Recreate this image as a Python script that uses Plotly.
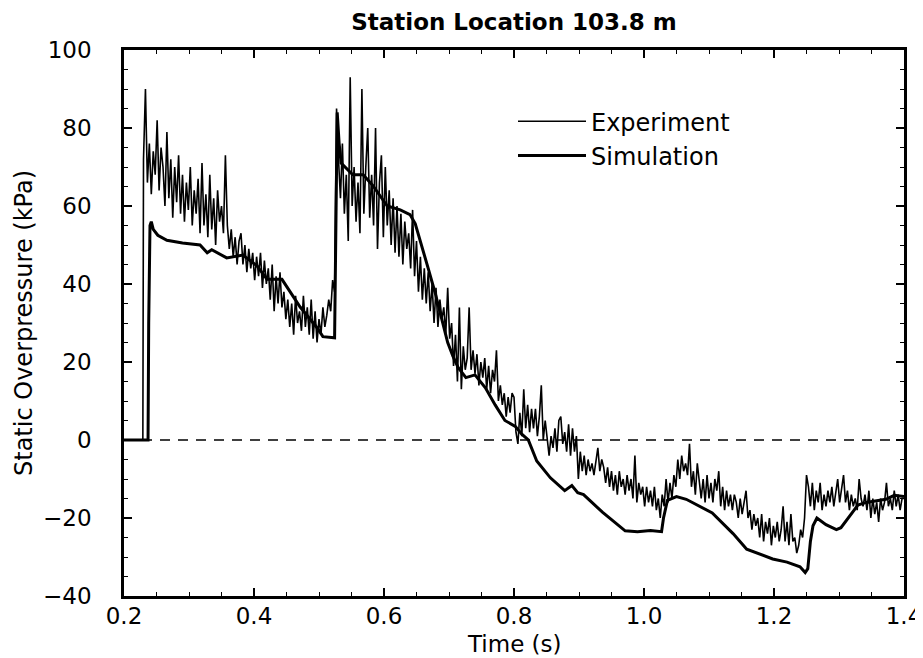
import plotly.graph_objects as go

# ---------------- data ----------------
title_text = "Station Location 103.8 m"
x_label = "Time (s)"
y_label = "Static Overpressure (kPa)"
series_names = ["Experiment", "Simulation"]

x_ticks = [0.2, 0.4, 0.6, 0.8, 1.0, 1.2, 1.4]
y_ticks = [-40, -20, 0, 20, 40, 60, 80, 100]

# experiment: quiet part before the shock, then samples every exp_dt seconds
exp_pre_t = [0.200, 0.229]
exp_pre_v = [0, 0]
exp_t0 = 0.230
exp_dt = 0.003
exp_v = [
    72, 90, 66, 76, 63, 74, 68, 82, 64, 75,
    70, 60, 79, 62, 72, 57, 70, 61, 73, 58,
    68, 56, 66, 59, 70, 55, 64, 58, 67, 53,
    71, 55, 63, 52, 68, 54, 62, 50, 64, 56,
    60, 53, 73, 55, 49, 54, 47, 52, 45, 51,
    53, 45, 50, 43, 49, 44, 48, 41, 47, 42,
    48, 39, 46, 40, 44, 36, 45, 33, 42, 35,
    43, 34, 38, 31, 36, 29, 35, 27, 37, 30,
    33, 28, 37, 29, 34, 27, 36, 26, 33, 25,
    31, 27, 34, 29, 32, 36, 33, 41, 38, 85,
    72, 62, 76, 58, 68, 51, 93, 60, 70, 56,
    66, 53, 90, 58, 70, 80, 57, 68, 55, 80,
    49, 66, 73, 52, 70, 55, 64, 50, 62, 48,
    60, 47, 58, 45, 56, 49, 53, 44, 59, 42,
    51, 38, 47, 36, 44, 35, 43, 33, 40, 30,
    39, 29, 36, 31, 34, 27, 39, 26, 30, 19,
    27, 15, 34, 13, 24, 18, 21, 34, 18, 23,
    17, 22, 14, 20, 16, 21, 13, 19, 12, 18,
    15, 23, 10, 14, 9, 12, 6, 11, 7, 12,
    11, 2, -1, 7, 1, 13, 3, 9, 2, 8,
    3, 8, 1, 6, 14, 0, 5, 1, -4, 1,
    -2, 3, -3, 5, 6, -1, 2, -3, 4, -4,
    3, -3, 1, -10, -3, -8, -4, -9, -5, -8,
    -6, -9, -5, -2, -8, -5, -7, -11, -7, -12,
    -8, -13, -9, -14, -8, -12, -10, -14, -9, -13,
    -10, -15, -4, -16, -11, -14, -12, -17, -12, -16,
    -13, -17, -12, -18, -15, -20, -14, -17, -10, -16,
    -11, -15, -9, -12, -5, -10, -4, -8, -6, -9,
    -1, -12, -8, -14, -6, -11, -15, -10, -16, -9,
    -15, -11, -16, -10, -13, -8, -17, -12, -18, -13,
    -17, -14, -18, -14, -16, -20, -15, -19, -16, -13,
    -20, -18, -23, -19, -22, -20, -25, -19, -26, -21,
    -24, -20, -27, -22, -25, -21, -26, -23, -17, -26,
    -21, -27, -19, -26, -25, -29, -27, -23, -25, -20,
    -9, -12, -17, -11, -18, -13, -16, -11, -18, -14,
    -17, -13, -16, -12, -17, -14, -10, -16, -13, -9,
    -16, -13, -18, -14, -17, -15, -18, -10, -15, -17,
    -14, -18, -13, -20, -15, -19, -16, -21, -15, -18,
    -16, -11, -17, -15, -18, -13, -17, -14, -18, -15,
    -15,
]

sim_t = [0.200, 0.237, 0.238, 0.240, 0.242, 0.245, 0.252, 0.266, 0.290, 0.317,
         0.328, 0.335, 0.358, 0.374, 0.383, 0.405, 0.420, 0.443, 0.471, 0.497,
         0.506, 0.524, 0.526, 0.528, 0.531, 0.534, 0.552, 0.568, 0.583, 0.605,
         0.625, 0.640, 0.648, 0.657, 0.668, 0.679, 0.689, 0.698, 0.706, 0.714,
         0.726, 0.740, 0.756, 0.771, 0.786, 0.802, 0.812, 0.822, 0.835, 0.856,
         0.878, 0.889, 0.898, 0.907, 0.936, 0.971, 0.990, 1.010, 1.027, 1.030,
         1.036, 1.050, 1.065, 1.085, 1.105, 1.137, 1.158, 1.198, 1.220, 1.240,
         1.248, 1.252, 1.256, 1.260, 1.266, 1.280, 1.296, 1.303, 1.314, 1.329,
         1.342, 1.372, 1.385, 1.400]
sim_v = [0, 0, 30, 55, 56, 54, 52.5, 51.2, 50.5, 50,
         48, 48.8, 46.7, 47.2, 47.4, 44.6, 41.2, 41.2, 34.1, 28.8,
         26.5, 26.2, 60, 84, 76, 71, 68, 68, 65.2, 60,
         59, 57.8, 55.5, 50, 44, 37.5, 30.5, 25, 21.5, 18.6,
         16, 16.7, 13.4, 9, 5, 3.5, 1.5, 0, -5.4, -9.7,
         -13, -11.7, -13.5, -14, -18.5, -23.3, -23.5, -23.2, -23.5, -20,
         -15.5, -14.5, -15.2, -17, -18.7, -24, -28, -30.5, -31.3, -32.5,
         -34, -33, -26, -22, -20, -21.7, -23, -22.5, -20, -16.7,
         -16, -15.2, -14.2, -14.5]

# ---------------- figure ----------------
exp_t = exp_pre_t + [round(exp_t0 + exp_dt * i, 4) for i in range(len(exp_v))]
exp_y = exp_pre_v + exp_v

FONT = "DejaVu Sans"

fig = go.Figure()
fig.add_trace(go.Scatter(x=exp_t, y=exp_y, mode="lines", name=series_names[0],
                         line=dict(color="black", width=1.6)))
fig.add_trace(go.Scatter(x=sim_t, y=sim_v, mode="lines", name=series_names[1],
                         line=dict(color="black", width=3)))

# zero reference line
fig.add_shape(type="line", xref="paper", yref="y", x0=0, x1=1, y0=0, y1=0,
              line=dict(color="black", width=1.5, dash="10px,8px"), layer="below")

axis_common = dict(
    showline=True, linewidth=2.5, linecolor="black", mirror="allticks",
    ticks="inside", ticklen=8, tickwidth=1.5, tickcolor="black",
    showgrid=False, zeroline=False, automargin=False,
    tickfont=dict(family=FONT, size=23, color="black"),
)

fig.update_xaxes(
    range=[0.2, 1.4], tickvals=x_ticks, ticktext=[f"{v:.1f}" for v in x_ticks],
    minor=dict(dtick=0.05, ticks="inside", ticklen=4, tickwidth=1, tickcolor="black"),
    ticklabelstandoff=-2,
    **axis_common,
)
fig.update_yaxes(
    range=[-40, 100], tickvals=y_ticks,
    minor=dict(dtick=5, ticks="inside", ticklen=4, tickwidth=1, tickcolor="black"),
    title=dict(text=y_label, font=dict(family=FONT, size=24, color="black"), standoff=4),
    ticklabelstandoff=25,
    **axis_common,
)

# x-axis title as a text label under the tick labels (the bottom margin is tight)
fig.add_annotation(text=x_label, xref="paper", yref="paper", x=0.5, y=-(644 - 596) / 546,
                   xanchor="center", yanchor="middle", showarrow=False,
                   font=dict(family=FONT, size=23, color="black"))

# the page body adds an 8 px offset, so the figure is 8 px smaller than the window
fig.update_layout(
    width=915, height=650,
    margin=dict(l=116, r=19, t=42, b=62),
    paper_bgcolor="white", plot_bgcolor="white",
    title=dict(text=f"<b>{title_text}</b>", x=0.5, xref="paper", xanchor="center",
               y=1 - 14 / 650, yref="container", yanchor="middle", automargin=False,
               font=dict(family=FONT, size=23, color="black")),
    showlegend=True,
    legend=dict(x=(513 - 124) / 780, y=0.91, xanchor="left", yanchor="top",
                bgcolor="rgba(0,0,0,0)", borderwidth=0, itemwidth=68,
                font=dict(family=FONT, size=24, color="black"),
                tracegroupgap=0),
)

fig.write_html("out.html")
